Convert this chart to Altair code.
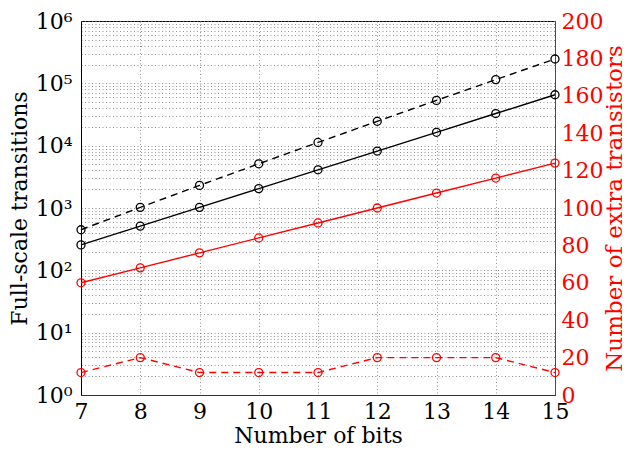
import altair as alt
import pandas as pd

bits = [7, 8, 9, 10, 11, 12, 13, 14, 15]
fs_solid = [256, 512, 1024, 2048, 4096, 8192, 16384, 32768, 65536]
fs_dashed = [448, 1024, 2304, 5120, 11264, 24576, 53248, 114688, 245760]
extra_solid = [60, 68, 76, 84, 92, 100, 108, 116, 124]
extra_dashed = [12, 20, 12, 12, 12, 20, 20, 20, 12]

decades = [1, 10, 100, 1000, 10000, 100000, 1000000]
sups = ["⁰", "¹", "²", "³", "⁴", "⁵", "⁶"]
minor_vals = [m * d for d in decades[:-1] for m in range(1, 10)] + [1000000]
right_vals = [0, 20, 40, 60, 80, 100, 120, 140, 160, 180, 200]

FONT = "DejaVu Serif"
FS = 22

label_expr = ""
for d, s in zip(decades, sups):
    label_expr += f"datum.value == {d} ? '10{s}' : "
label_expr += "''"

df = pd.DataFrame({
    "bits": bits,
    "fs_solid": fs_solid,
    "fs_dashed": fs_dashed,
    "extra_solid": extra_solid,
    "extra_dashed": extra_dashed,
})

base = alt.Chart(df)

GRIDC = "#777"
GRIDD = [1, 2.5]

xaxis = alt.Axis(values=bits, format="d", title="Number of bits", grid=True,
                 gridDash=GRIDD, gridColor=GRIDC, gridWidth=0.8,
                 ticks=False, labelPadding=6, titlePadding=3,
                 domainColor="#7a1414", domainWidth=1.2,
                 labelFont=FONT, titleFont=FONT,
                 labelFontSize=FS, titleFontSize=FS, labelColor="black",
                 titleColor="black", titleFontWeight="normal",
                 labelFlush=False, labelOverlap=False)
xscale = alt.Scale(domain=[7, 15], nice=False)

ylog = alt.Scale(type="log", domain=[1, 1000000], nice=False)
yleft_axis = alt.Axis(values=minor_vals, labelExpr=label_expr, grid=True,
                      gridDash=GRIDD, gridColor=GRIDC, gridWidth=0.8,
                      ticks=False, labelPadding=9, titlePadding=4,
                      title="Full-scale transitions", domainColor="black",
                      labelFont=FONT, titleFont=FONT, labelFontSize=FS,
                      titleFontSize=FS, labelColor="black", titleColor="black",
                      titleFontWeight="normal", labelFlush=False, labelOverlap=False)

ylin = alt.Scale(domain=[0, 200], nice=False)
yright_axis = alt.Axis(orient="right", values=right_vals, grid=False, ticks=False,
                       title="Number of extra transistors", titleAngle=270,
                       titleBaseline="top",
                       labelPadding=6, titlePadding=1, domainColor="#ff0000",
                       labelColor="#ff0000", titleColor="#ff0000", labelFont=FONT,
                       titleFont=FONT, labelFontSize=FS, titleFontSize=23,
                       titleFontWeight="normal", labelFlush=False, labelOverlap=False)

BLACK = "black"
RED = "#ff0000"
DASH = [7, 5]
PT = 64


def series(field, color, dashed, scale, axis):
    x = alt.X("bits:Q", scale=xscale, axis=xaxis)
    y = alt.Y(f"{field}:Q", scale=scale, axis=axis)
    kw = dict(color=color, strokeWidth=1.4)
    if dashed:
        kw["strokeDash"] = DASH
    line = base.mark_line(**kw).encode(x=x, y=y)
    pts = base.mark_point(shape="circle", filled=False, color=color, size=PT,
                          strokeWidth=1.3, opacity=1).encode(x=x, y=y)
    return [line, pts]


left = alt.layer(*(series("fs_solid", BLACK, False, ylog, yleft_axis)
                   + series("fs_dashed", BLACK, True, ylog, yleft_axis)))
right = alt.layer(*(series("extra_solid", RED, False, ylin, yright_axis)
                    + series("extra_dashed", RED, True, ylin, yright_axis)))

chart = alt.layer(left, right).resolve_scale(y="independent").properties(
    width=474, height=374,
    autosize=alt.AutoSizeParams(type="none"),
    padding={"left": 73, "top": 13, "right": 67, "bottom": 58},
    background="white",
).configure_view(stroke="black", strokeWidth=1)

chart.save("out.html", embed_options={"renderer": "svg", "actions": False})
